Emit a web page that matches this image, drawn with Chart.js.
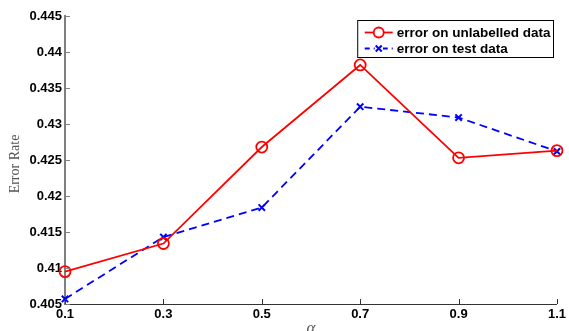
<!DOCTYPE html>
<html>
<head>
<meta charset="utf-8">
<script src="https://cdn.jsdelivr.net/npm/chart.js@4.4.0/dist/chart.umd.min.js"></script>
<style>
    html, body { margin: 0; padding: 0; background: #fff; }
    #wrap { width: 569px; height: 331px; }
</style>
</head>
<body>
<div id="wrap"><canvas id="chart" width="569" height="331"></canvas></div>
<script>
// Values
const alphas = [0.1, 0.3, 0.5, 0.7, 0.9, 1.1];
const unlabelledErr = [0.4095, 0.4134, 0.4268, 0.4382, 0.4253, 0.4263];
const testErr = [0.4057, 0.4143, 0.4184, 0.4324, 0.4309, 0.4262];
const seriesNames = ['error on unlabelled data', 'error on test data'];
const xTicks = [0.1, 0.3, 0.5, 0.7, 0.9, 1.1];
const yTicks = [0.405, 0.41, 0.415, 0.42, 0.425, 0.43, 0.435, 0.44, 0.445];
const xTitle = '\u03b1';
const yTitle = 'Error Rate';

const tickFont = { family: 'Liberation Sans', size: 13, weight: 'bold' };

const toPoints = (xs, ys) => xs.map((x, i) => ({ x: x, y: ys[i] }));

// Inward tick marks, axis titles and the boxed legend (MATLAB look)
const decorPlugin = {
    id: 'decor',
    afterDraw(chart) {
        const ctx = chart.ctx;
        const area = chart.chartArea;
        const xs = chart.scales.x;
        const ys = chart.scales.y;
        ctx.save();

        // inward ticks
        ctx.lineWidth = 1;
        ctx.strokeStyle = '#333';
        xTicks.forEach(v => {
            const px = Math.round(xs.getPixelForValue(v)) + 0.5;
            ctx.beginPath();
            ctx.moveTo(px, area.bottom);
            ctx.lineTo(px, area.bottom - 5);
            ctx.stroke();
        });
        ctx.strokeStyle = '#7f7f7f';
        yTicks.forEach(v => {
            const py = Math.round(ys.getPixelForValue(v)) + 0.5;
            ctx.beginPath();
            ctx.moveTo(area.left, py);
            ctx.lineTo(area.left + 5, py);
            ctx.stroke();
        });

        // axis titles
        ctx.fillStyle = '#555';
        ctx.textAlign = 'center';
        ctx.textBaseline = 'middle';
        ctx.save();
        ctx.translate(15, 164);
        ctx.rotate(-Math.PI / 2);
        ctx.font = '14px "Liberation Serif"';
        ctx.fillText(yTitle, 0, 0);
        ctx.restore();
        ctx.font = 'italic 17px "Liberation Serif"';
        ctx.textBaseline = 'top';
        ctx.fillText(xTitle, (area.left + area.right) / 2, 320);

        // legend box
        ctx.font = 'bold 13.5px "Liberation Sans"';
        const textW = Math.max(...seriesNames.map(s => ctx.measureText(s).width));
        const boxW = 39 + textW + 3;
        const boxR = 553.5;
        const boxL = boxR - boxW;
        const boxT = 20.5;
        const boxH = 37;
        ctx.fillStyle = '#fff';
        ctx.fillRect(boxL, boxT, boxW, boxH);
        ctx.strokeStyle = '#000';
        ctx.lineWidth = 1;
        ctx.strokeRect(boxL, boxT, boxW, boxH);

        const rows = [boxT + 12, boxT + 28];
        const sx0 = boxL + 7, sx1 = boxL + 35, sxm = (sx0 + sx1) / 2;
        // red sample
        ctx.strokeStyle = '#ff0000';
        ctx.lineWidth = 1.8;
        ctx.beginPath();
        ctx.moveTo(sx0, rows[0]);
        ctx.lineTo(sx1, rows[0]);
        ctx.stroke();
        ctx.beginPath();
        ctx.arc(sxm, rows[0], 5, 0, Math.PI * 2);
        ctx.fillStyle = '#fff';
        ctx.fill();
        ctx.stroke();
        // blue sample
        ctx.strokeStyle = '#0000ff';
        ctx.setLineDash([5, 4]);
        ctx.beginPath();
        ctx.moveTo(sx0, rows[1]);
        ctx.lineTo(sx1, rows[1]);
        ctx.stroke();
        ctx.setLineDash([]);
        ctx.fillStyle = '#fff';
        ctx.fillRect(sxm - 4, rows[1] - 4, 8, 8);
        ctx.lineWidth = 2;
        ctx.beginPath();
        ctx.moveTo(sxm - 3, rows[1] - 3);
        ctx.lineTo(sxm + 3, rows[1] + 3);
        ctx.moveTo(sxm + 3, rows[1] - 3);
        ctx.lineTo(sxm - 3, rows[1] + 3);
        ctx.stroke();

        ctx.fillStyle = '#000';
        ctx.textAlign = 'left';
        ctx.textBaseline = 'middle';
        ctx.fillText(seriesNames[0], boxL + 39, rows[0] + 1);
        ctx.fillText(seriesNames[1], boxL + 39, rows[1] + 1);
        ctx.restore();
    }
};

new Chart(document.getElementById('chart').getContext('2d'), {
    type: 'line',
    data: {
        datasets: [
            {
                label: seriesNames[0],
                data: toPoints(alphas, unlabelledErr),
                borderColor: '#ff0000',
                backgroundColor: 'rgba(0,0,0,0)',
                borderWidth: 1.8,
                pointStyle: 'circle',
                pointRadius: 5.5,
                pointBorderWidth: 1.8,
                pointBorderColor: '#ff0000',
                pointBackgroundColor: 'rgba(0,0,0,0)',
                tension: 0,
                clip: false
            },
            {
                label: seriesNames[1],
                data: toPoints(alphas, testErr),
                borderColor: '#0000ff',
                backgroundColor: 'rgba(0,0,0,0)',
                borderWidth: 1.8,
                borderDash: [8, 5],
                pointStyle: 'crossRot',
                pointRadius: 4.5,
                pointBorderWidth: 2,
                pointBorderColor: '#0000ff',
                tension: 0,
                clip: false
            }
        ]
    },
    options: {
        responsive: false,
        animation: false,
        layout: { padding: { top: 16, right: 9, left: 0, bottom: 0 } },
        plugins: {
            legend: { display: false },
            tooltip: { enabled: false }
        },
        scales: {
            x: {
                type: 'linear',
                min: 0.1,
                max: 1.1,
                afterBuildTicks: (scale) => { scale.ticks = xTicks.map(v => ({ value: v })); },
                afterFit: (scale) => { scale.height = 27; },
                ticks: {
                    color: '#000',
                    font: tickFont,
                    padding: 3,
                    maxRotation: 0,
                    callback: (v) => v.toFixed(1)
                },
                grid: { display: false, drawTicks: false },
                border: { display: true, color: '#333', width: 1 }
            },
            y: {
                type: 'linear',
                min: 0.405,
                max: 0.445,
                afterBuildTicks: (scale) => { scale.ticks = yTicks.map(v => ({ value: v })); },
                afterFit: (scale) => { scale.width = 65; },
                ticks: {
                    color: '#000',
                    font: tickFont,
                    padding: 3,
                    callback: (v) => String(+v.toFixed(3))
                },
                grid: { display: false, drawTicks: false },
                border: { display: true, color: '#7f7f7f', width: 2 }
            }
        }
    },
    plugins: [decorPlugin]
});
</script>
</body>
</html>
